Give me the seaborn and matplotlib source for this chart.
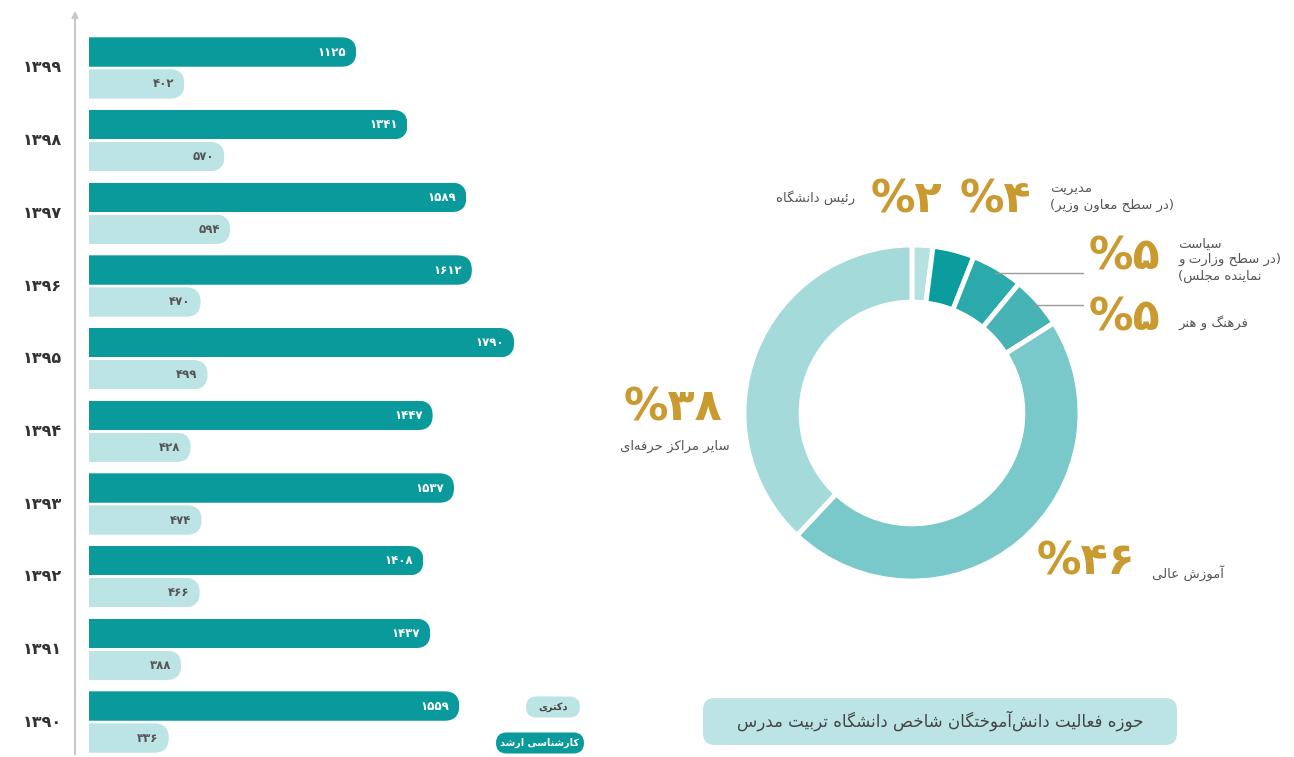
import numpy as np
import pandas as pd
import seaborn as sns
import matplotlib.pyplot as plt
from matplotlib.patches import FancyBboxPatch

# bar chart data (top to bottom)
years = [1399, 1398, 1397, 1396, 1395, 1394, 1393, 1392, 1391, 1390]
masters = [1125, 1341, 1589, 1612, 1790, 1447, 1537, 1408, 1437, 1559]
phd = [402, 570, 594, 470, 499, 428, 474, 466, 388, 336]
degree_names = ['کارشناسی ارشد', 'دکتری']

# donut data (clockwise from top)
field_names = ['رئیس دانشگاه', 'مدیریت\n(در سطح معاون وزیر)',
               'سیاست\n(در سطح وزارت و\nنماینده مجلس)', 'فرهنگ و هنر',
               'آموزش عالی', 'سایر مراکز حرفه\u200cای']
field_share = [2, 4, 5, 5, 46, 38]
title = 'حوزه فعالیت دانش\u200cآموختگان شاخص دانشگاه تربیت مدرس'

dark = '#0a9a9b'
light = '#bde4e4'
gold = '#c99a30'
pie_colors = ['#b6e1e1', '#0b9c9d', '#2ba9ab', '#47b3b5', '#79c8ca', '#a5dadb']

W, H = 1294, 757

# matplotlib has no arabic shaping, so pick presentation forms by hand
AR_FORMS = {
    'آ': (0xFE81, 2), 'ا': (0xFE8D, 2), 'ئ': (0xFE89, 4), 'ب': (0xFE8F, 4),
    'ت': (0xFE95, 4), 'ج': (0xFE9D, 4), 'ح': (0xFEA1, 4), 'خ': (0xFEA5, 4),
    'د': (0xFEA9, 2), 'ر': (0xFEAD, 2), 'ز': (0xFEAF, 2), 'س': (0xFEB1, 4),
    'ش': (0xFEB5, 4), 'ص': (0xFEB9, 4), 'ط': (0xFEC1, 4), 'ع': (0xFEC9, 4),
    'ف': (0xFED1, 4), 'ل': (0xFEDD, 4), 'م': (0xFEE1, 4), 'ن': (0xFEE5, 4),
    'ه': (0xFEE9, 4), 'و': (0xFEED, 2), 'ک': (0xFB8E, 4), 'گ': (0xFB92, 4),
    'ی': (0xFBFC, 4),
}
MIRROR = str.maketrans('()', ')(')


def shape_line(s):
    out = []
    for i, ch in enumerate(s):
        if ch not in AR_FORMS:
            out.append(ch)
            continue
        base, n = AR_FORMS[ch]
        prev = s[i - 1] if i > 0 else ''
        nxt = s[i + 1] if i + 1 < len(s) else ''
        join_prev = prev in AR_FORMS and AR_FORMS[prev][1] == 4
        join_next = n == 4 and nxt in AR_FORMS
        if join_prev and join_next:
            off = 3
        elif join_prev:
            off = 1
        elif join_next:
            off = 2
        else:
            off = 0
        out.append(chr(base + off))
    return ''.join(out).replace('\u200c', '')[::-1].translate(MIRROR)


def fa(s):
    return '\n'.join(shape_line(line) for line in s.split('\n'))


def fa_num(n):
    return str(n).translate(str.maketrans('0123456789', '۰۱۲۳۴۵۶۷۸۹'))


def fx(x):
    return x / W


def fy(y):
    return 1 - y / H


sns.set_style('white')
plt.rcParams['font.family'] = ['DejaVu Sans']

fig = plt.figure(figsize=(W / 100, H / 100), dpi=100)

# ---- bar chart ----
ax_left_px, ax_w_px = 75, 525
px_per_unit = 0.2375
x_lo = -(89 - ax_left_px) / px_per_unit
x_hi = x_lo + ax_w_px / px_per_unit
row_px = 72.67
y_top = -68 / row_px
y_bot = (H - 68) / row_px

ax = fig.add_axes([fx(ax_left_px), 0, ax_w_px / W, 1])
year_labels = [fa_num(y) for y in years]
df = pd.DataFrame({
    'year': year_labels * 2,
    'value': masters + phd,
    'degree': [degree_names[0]] * len(years) + [degree_names[1]] * len(years),
})
sns.barplot(data=df, y='year', x='value', hue='degree', order=year_labels,
            hue_order=degree_names, palette=[dark, light], width=0.88, gap=0.08,
            saturation=1, orient='h', legend=False, ax=ax)
ax.set_xlim(x_lo, x_hi)
ax.set_ylim(y_bot, y_top)
ax.set_xlabel('')
ax.set_ylabel('')
ax.set_xticks([])
ax.set_yticks([])
sns.despine(ax=ax, left=True, bottom=True)

# rounded right ends through a clip path, value labels inside the end
m = px_per_unit / row_px
for container, txt_color in zip(ax.containers, ['white', '#555555']):
    for p in container:
        x0, y0, w, h = p.get_x(), p.get_y(), p.get_width(), p.get_height()
        r = (h * row_px / 2) / px_per_unit
        clip = FancyBboxPatch((x0 - 500, y0), w + 500, h,
                              boxstyle=f'round,pad=0,rounding_size={r}',
                              mutation_aspect=m, transform=ax.transData)
        p.set_clip_path(clip)
        p.set_edgecolor('none')
        ax.text(w - 10 / px_per_unit, y0 + h / 2, fa_num(int(round(w))),
                ha='right', va='center', fontsize=8.5, fontweight='bold',
                color=txt_color)

for i, lab in enumerate(year_labels):
    fig.text(fx(62), fy(68 + i * row_px), lab, ha='right', va='center',
             fontsize=11.5, fontweight='bold', color='#333333')

ax.annotate('', xy=(0, fy(8)), xytext=(0, 0), xycoords='axes fraction',
            arrowprops=dict(arrowstyle='-|>', color='#c8c8c8', lw=1.5,
                            mutation_scale=9))

# legend chips
for (cx, cy, bw, txt, fc, tc) in [(553, 707, 54, degree_names[1], light, '#444444'),
                                  (540, 743, 88, degree_names[0], dark, 'white')]:
    chip = FancyBboxPatch((fx(cx - bw / 2), fy(cy + 10.5)), bw / W, 21 / H,
                          boxstyle=f'round,pad=0,rounding_size={10.5 / W}',
                          mutation_aspect=W / H, transform=fig.transFigure,
                          facecolor=fc, edgecolor='none')
    fig.patches.append(chip)
    fig.text(fx(cx), fy(cy), fa(txt), ha='center', va='center', fontsize=7,
             fontweight='bold', color=tc)

# ---- donut ----
R = 168
cx, cy = 912, 413
side = 2.5 * R
ax2 = fig.add_axes([fx(cx - side / 2), fy(cy + side / 2), side / W, side / H])
wedges, _ = ax2.pie(field_share, colors=pie_colors, startangle=90, counterclock=False,
                    wedgeprops=dict(width=0.34, edgecolor='white', linewidth=3.5))
ax2.set_xlim(-1.25, 1.25)
ax2.set_ylim(-1.25, 1.25)
ax2.set_aspect('equal')
ax2.axis('off')

# leader lines for the two 5% slices
for idx in [2, 3]:
    wd = wedges[idx]
    mid = np.deg2rad((wd.theta1 + wd.theta2) / 2)
    sx, sy = 0.97 * np.cos(mid), 0.97 * np.sin(mid)
    ax2.plot([sx, (1083 - cx) / R], [sy, sy], color='#9a9a9a', lw=1)

pct_pos = [(906, 200), (995, 200), (1124, 257), (1124, 318), (1086, 562), (673, 408)]
name_pos = [(855, 198, 'right'), (1050, 197, 'left'), (1178, 260, 'left'),
            (1178, 323, 'left'), (1152, 573, 'left'), (675, 446, 'center')]
for share, name, (px, py), (nx, ny, ha) in zip(field_share, field_names, pct_pos, name_pos):
    fig.text(fx(px), fy(py), '%' + fa_num(share), ha='center', va='center',
             fontsize=32, fontweight='bold', color=gold)
    fig.text(fx(nx), fy(ny), fa(name), ha=ha, va='center', fontsize=9.5,
             color='#555555', multialignment=ha, linespacing=1.3)

# title chip
box = FancyBboxPatch((fx(703), fy(745)), 474 / W, 47 / H,
                     boxstyle=f'round,pad=0,rounding_size={12 / W}',
                     mutation_aspect=W / H, transform=fig.transFigure,
                     facecolor=light, edgecolor='none')
fig.patches.append(box)
fig.text(fx(940), fy(721), fa(title), ha='center', va='center', fontsize=12,
         color='#444444')

fig.savefig('out.png', dpi=100)
